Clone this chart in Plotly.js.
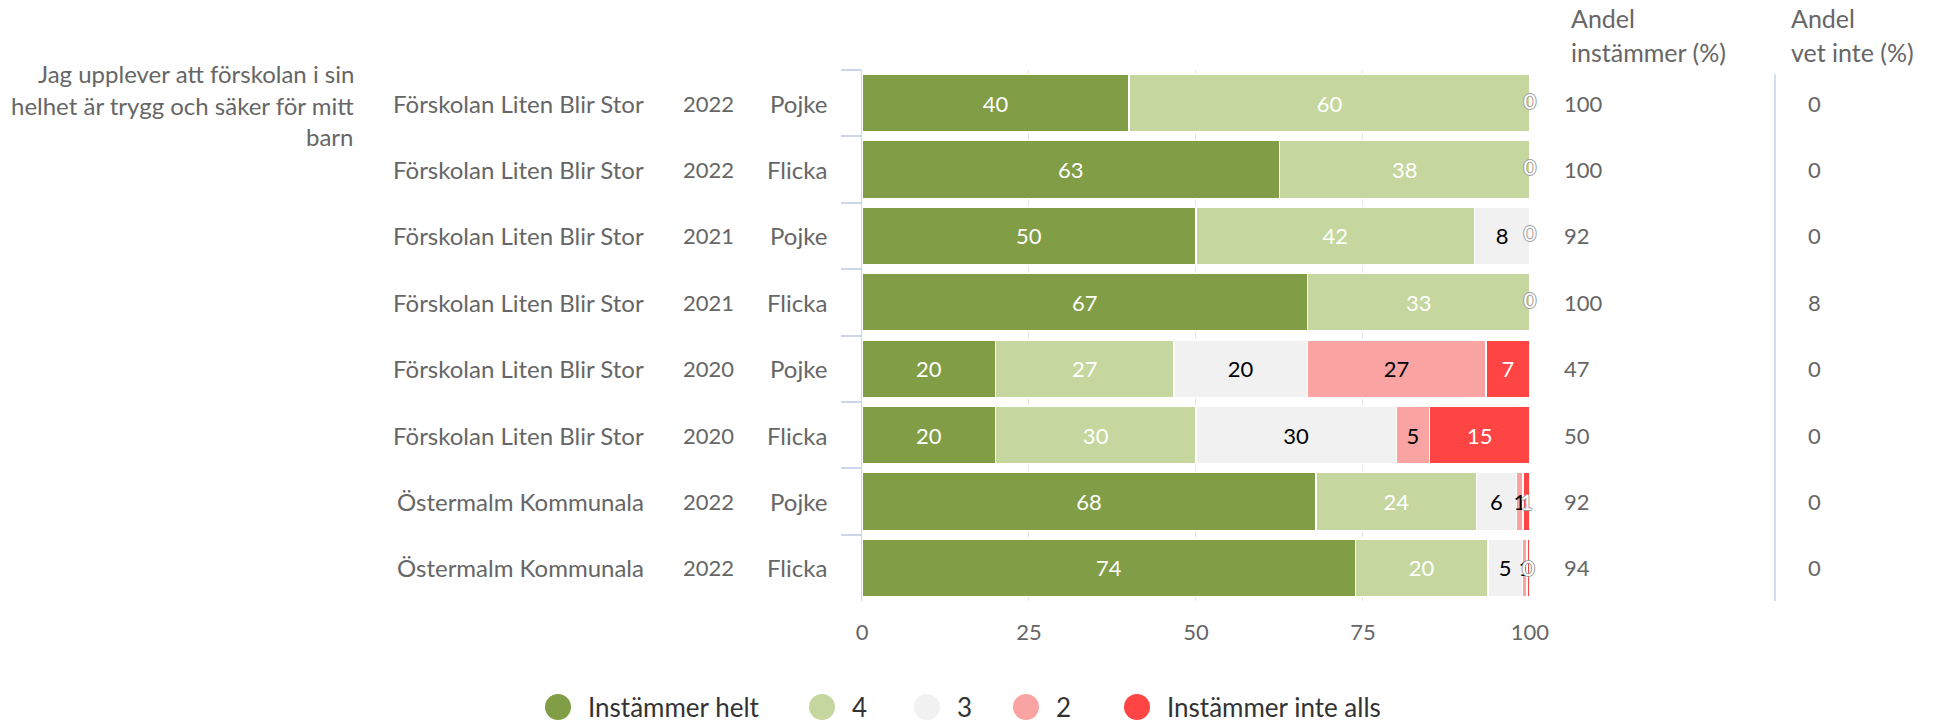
<!DOCTYPE html>
<html><head><meta charset="utf-8">
<script src="https://cdn.plot.ly/plotly-3.0.1.min.js"></script>
<style>html,body{margin:0;padding:0;background:#fff}#chart{width:1936px;height:724px}</style>
</head><body><div id="chart"></div>
<script>
// ---- data ----
const questionLines = ["Jag upplever att förskolan i sin", "helhet är trygg och säker för mitt", "barn"];
const units = ["Förskolan Liten Blir Stor", "Förskolan Liten Blir Stor", "Förskolan Liten Blir Stor", "Förskolan Liten Blir Stor",
               "Förskolan Liten Blir Stor", "Förskolan Liten Blir Stor", "Östermalm Kommunala", "Östermalm Kommunala"];
const years = ["2022", "2022", "2021", "2021", "2020", "2020", "2022", "2022"];
const genders = ["Pojke", "Flicka", "Pojke", "Flicka", "Pojke", "Flicka", "Pojke", "Flicka"];
const seriesNames = ["Instämmer helt", "4", "3", "2", "Instämmer inte alls"];
const instammerHelt = [40, 62.5, 50, 66.7, 20, 20, 68, 73.9];
const svar4 = [60, 37.5, 41.7, 33.3, 26.7, 30, 24, 19.8];
const svar3 = [0, 0, 8.3, 0, 20, 30, 6, 5.2];
const svar2 = [0, 0, 0, 0, 26.7, 5, 1, 0.7];
const instammerInteAlls = [0, 0, 0, 0, 6.6, 15, 1, 0.4];
const andelInstammer = [100, 100, 92, 100, 47, 50, 92, 94];
const andelVetInte = [0, 0, 0, 8, 0, 0, 0, 0];
const xTicks = [0, 25, 50, 75, 100];

// ---- styles ----
const FONT = "Lato, 'Open Sans', sans-serif";
const colors = ["#819d45", "#c5d79e", "#f1f1f1", "#f9a3a3", "#ff4444"];
const textColors = ["#ffffff", "#ffffff", "#000000", "#000000", "#ffffff"];
const outline = "-1px 0 #9a9a9a, 1px 0 #9a9a9a, 0 -1px #9a9a9a, 0 1px #9a9a9a";
const LBL = "#666666";
const SZT = 24;   // word labels
const SZD = 22;   // digit labels
const SZL = 26;   // legend

const cats = units.map((u, i) => u + " | " + years[i] + " | " + genders[i]);
const seriesValues = [instammerHelt, svar4, svar3, svar2, instammerInteAlls];

const traces = [];
seriesValues.forEach((vals, k) => {
  traces.push({
    type: "bar", orientation: "h", name: seriesNames[k],
    x: vals, y: cats,
    marker: {color: colors[k], line: {color: "#ffffff", width: 1.5}},
    texttemplate: "%{x:.0f}", textposition: "inside", insidetextanchor: "middle",
    textfont: {family: FONT, size: SZD, color: textColors[k],
      shadow: k === 4 ? vals.map(v => v < 3 ? outline : "none") : "none"},
    constraintext: "none", cliponaxis: false,
    hoverinfo: "skip", showlegend: false
  });
});

// zero-valued segments get a ghost "0" label at their stack position
const zeroX = [], zeroY = [];
cats.forEach((c, i) => {
  let cum = 0; const seen = new Set();
  seriesValues.forEach(v => {
    const key = Math.round(cum * 1000);
    if (v[i] === 0 && !seen.has(key)) { seen.add(key); zeroX.push(cum); zeroY.push(c); }
    cum += v[i];
  });
});
traces.push({
  type: "scatter", mode: "text", x: zeroX, y: zeroY, text: zeroX.map(() => "0"),
  textposition: "middle center", cliponaxis: false,
  textfont: {family: FONT, size: SZD, color: "#ffffff", shadow: outline},
  hoverinfo: "skip", showlegend: false
});

// ---- annotations (text columns) ----
const PL = 862, PW = 668, PT = 70, PH = 531;
const px = v => (v - PL) / PW;
const py = v => (PT + PH - v) / PH;
const ann = [];
const shapes = [];
const txt = (x, y, yref, xa, t, size, color) => ann.push({xref: "paper", yref: yref, x: x, y: y, xanchor: xa, yanchor: "middle",
  text: t, showarrow: false, font: {family: FONT, size: size, color: color || LBL}});

questionLines.forEach((t, i) => txt(px(356), py([74, 105, 136][i]), "paper", "right", t, SZT));
cats.forEach((c, i) => {
  txt(px(646), c, "y", "right", units[i], SZT);
  txt(px(708), c, "y", "center", years[i], SZD);
  txt(px(829), c, "y", "right", genders[i], SZT);
  txt(px(1562), c, "y", "left", String(andelInstammer[i]), SZD);
  txt(px(1806), c, "y", "left", String(andelVetInte[i]), SZD);
});
[["Andel", 1569, 18], ["instämmer (%)", 1569, 52], ["Andel", 1789, 18], ["vet inte (%)", 1789, 52]]
  .forEach(h => txt(px(h[1]), py(h[2]), "paper", "left", h[0], 25));

// legend (circles + labels), laid out along the bottom
const legCx = [558, 822, 927, 1026, 1137];
const legY = 707, legR = 13;
seriesNames.forEach((n, k) => {
  shapes.push({type: "circle", xref: "paper", yref: "paper",
    x0: px(legCx[k] - legR), x1: px(legCx[k] + legR), y0: py(legY + legR), y1: py(legY - legR),
    fillcolor: colors[k], line: {width: 0}});
  txt(px(legCx[k] + 28), py(legY), "paper", "left", n, SZL, "#333333");
});

shapes.push({type: "line", xref: "paper", yref: "paper", x0: px(1775), x1: px(1775), y0: 0, y1: py(74),
  line: {color: "#c6d0ea", width: 1.5}});

const layout = {
  width: 1936, height: 724,
  paper_bgcolor: "#ffffff", plot_bgcolor: "#ffffff",
  margin: {l: PL, r: 1936 - PL - PW, t: PT, b: 724 - PT - PH, pad: 0},
  barmode: "stack", bargap: 0.13,
  font: {family: FONT, size: SZD, color: LBL},
  uniformtext: {mode: "show", minsize: SZD},
  xaxis: {range: [0, 100.02], tickvals: xTicks, ticktext: xTicks.map(String),
    showgrid: true, gridcolor: "#e6e6e6", gridwidth: 1, zeroline: false, showline: false,
    ticks: "outside", ticklen: 12, tickcolor: "rgba(0,0,0,0)",
    tickfont: {family: FONT, size: SZD, color: LBL}, fixedrange: true},
  yaxis: {type: "category", categoryorder: "array", categoryarray: cats, autorange: "reversed",
    showticklabels: false, ticks: "outside", tickson: "boundaries", ticklen: 20, tickwidth: 2,
    tickcolor: "#ccd6eb", showline: true, linecolor: "#ccd6eb", linewidth: 1.5,
    showgrid: false, zeroline: false, fixedrange: true},
  shapes: shapes,
  annotations: ann,
  showlegend: false
};

Plotly.newPlot("chart", traces, layout, {displayModeBar: false, staticPlot: true});
</script></body></html>
